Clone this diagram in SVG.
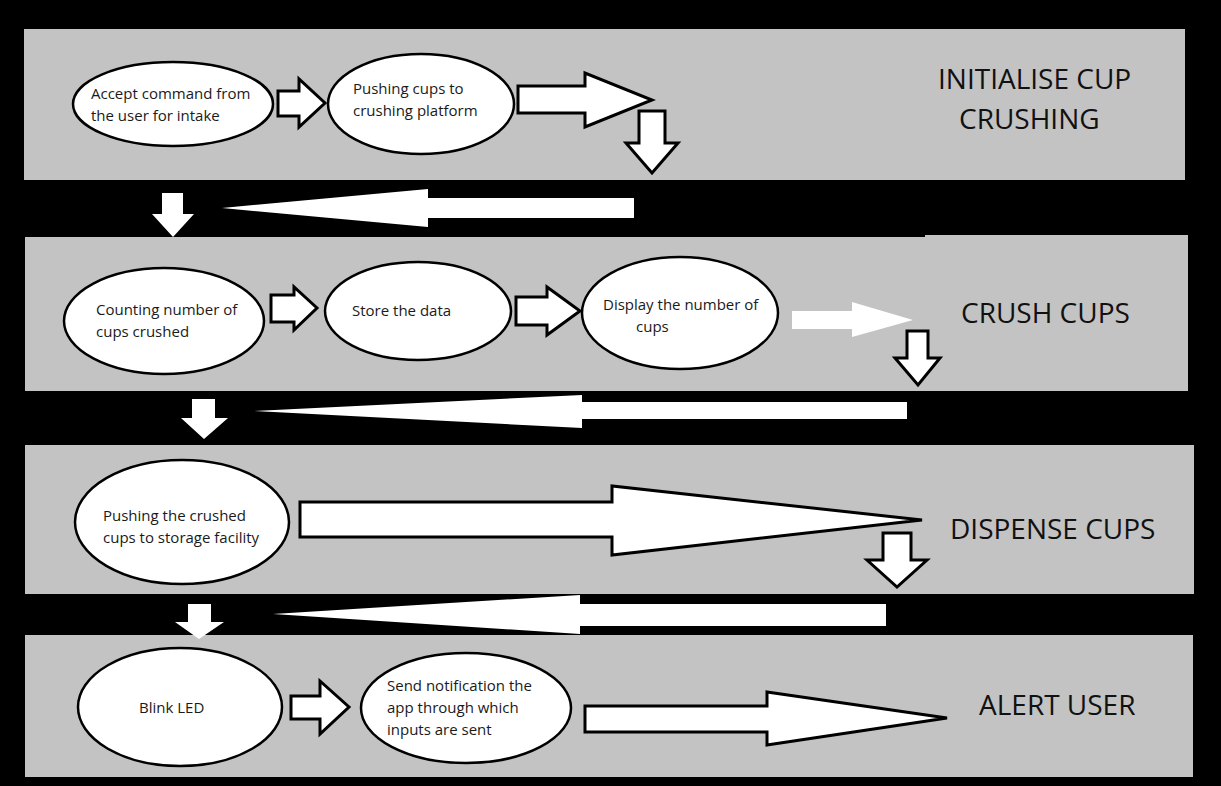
<svg xmlns="http://www.w3.org/2000/svg" width="1221" height="786" viewBox="0 0 1221 786">
<style>
.band{fill:#c3c3c3}
.node{fill:#fff;stroke:#000;stroke-width:2.5}
.t{font-family:"Open Sans","Liberation Sans",sans-serif;font-size:15px;fill:#1a1a1a}
.title{font-family:"Open Sans","Liberation Sans",sans-serif;font-size:28px;fill:#111}
.oa{fill:#fff;stroke:#000;stroke-width:3;stroke-linejoin:miter}
.wa{fill:#fff;stroke:none}
</style>
<rect x="0" y="0" width="1221" height="786" fill="#000"/>
<g id="stages">
<rect class="band" x="24" y="29" width="1161" height="151"/>
<rect class="band" x="25" y="237" width="1163" height="154"/>
<rect class="band" x="925" y="235" width="263" height="3"/>
<rect class="band" x="25" y="445" width="1169" height="149"/>
<rect class="band" x="25" y="635" width="1168" height="142"/>
</g>
<g id="label-initialise">
<text class="title" x="938" y="89">INITIALISE CUP</text>
<text class="title" x="959" y="129">CRUSHING</text>
</g>
<g id="label-crush"><text class="title" x="961" y="323">CRUSH CUPS</text></g>
<g id="label-dispense"><text class="title" x="950" y="539">DISPENSE CUPS</text></g>
<g id="label-alert"><text class="title" x="979" y="715">ALERT USER</text></g>
<g id="accept-command">
<ellipse class="node" cx="173" cy="104" rx="100" ry="42"/>
<text class="t" x="91" y="99">Accept command from</text>
<text class="t" x="91" y="121">the user for intake</text>
</g>
<g id="pushing-cups">
<ellipse class="node" cx="421" cy="104" rx="93" ry="50"/>
<text class="t" x="353" y="94">Pushing cups to</text>
<text class="t" x="353" y="116">crushing platform</text>
</g>
<g id="counting">
<ellipse class="node" cx="164" cy="321" rx="100" ry="53"/>
<text class="t" x="96" y="315">Counting number of</text>
<text class="t" x="96" y="337">cups crushed</text>
</g>
<g id="store">
<ellipse class="node" cx="418" cy="311" rx="93" ry="49"/>
<text class="t" x="352" y="316">Store the data</text>
</g>
<g id="display">
<ellipse class="node" cx="680" cy="313" rx="98" ry="56"/>
<text class="t" x="603" y="310">Display the number of</text>
<text class="t" x="636" y="332">cups</text>
</g>
<g id="pushing-crushed">
<ellipse class="node" cx="182" cy="522" rx="107" ry="62"/>
<text class="t" x="103" y="521">Pushing the crushed</text>
<text class="t" x="103" y="543">cups to storage facility</text>
</g>
<g id="blink-led">
<ellipse class="node" cx="180" cy="707" rx="102" ry="59"/>
<text class="t" x="139" y="713">Blink LED</text>
</g>
<g id="send-notification">
<ellipse class="node" cx="466" cy="708" rx="105" ry="55"/>
<text class="t" x="387" y="691">Send notification the</text>
<text class="t" x="387" y="713">app through which</text>
<text class="t" x="387" y="735">inputs are sent</text>
</g>
<g id="connectors">
<polygon class="oa" points="278,91 299,91 299,79 325,103 299,127 299,116 278,116"/>
<polygon class="oa" points="518,86 585,86 585,73 652,100 585,127 585,113 518,113"/>
<polygon class="oa" points="639,111 665,111 665,143 678,143 652,173 626,143 639,143"/>
<polygon class="wa" points="162,193 183,193 183,214 194,214 173,237 152,214 162,214"/>
<polygon class="wa" points="222,208 428,189 428,198 634,198 634,218 428,218 428,227"/>
<polygon class="oa" points="271,295 294,295 294,287 317,308 294,330 294,322 271,322"/>
<polygon class="oa" points="516,297 547,297 547,287 580,311 547,335 547,325 516,325"/>
<polygon class="wa" points="792,311 852,311 852,302 913,320 852,337 852,329 792,329"/>
<polygon class="oa" points="907,331 928,331 928,358 940,358 918,385 895,358 907,358"/>
<polygon class="wa" points="192,399 215,399 215,418 228,418 204,439 181,418 192,418"/>
<polygon class="wa" points="254,411 582,395 582,402 907,402 907,419 582,419 582,428"/>
<polygon class="oa" points="300,502 612,502 612,486 922,520 612,555 612,537 300,537"/>
<polygon class="oa" points="883,533 911,533 911,560 927,560 897,587 867,560 883,560"/>
<polygon class="wa" points="188,604 211,604 211,622 224,622 199,639 175,622 188,622"/>
<polygon class="wa" points="273,614 580,595 580,604 886,604 886,626 580,626 580,634"/>
<polygon class="oa" points="291,696 320,696 320,681 349,707 320,734 320,719 291,719"/>
<polygon class="oa" points="585,706 767,706 767,692 947,718 767,745 767,732 585,732"/>
</g>
</svg>
